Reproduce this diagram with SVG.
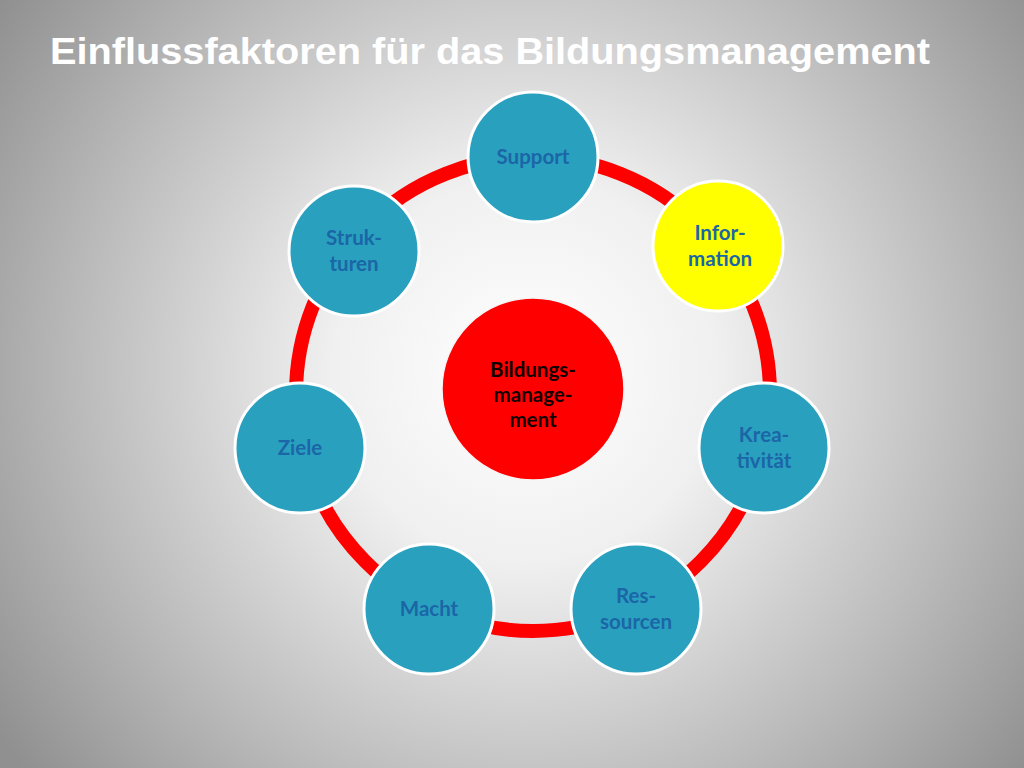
<svg xmlns="http://www.w3.org/2000/svg" width="1024" height="768" viewBox="0 0 1024 768">
<defs>
<radialGradient id="bg" gradientUnits="userSpaceOnUse" cx="525" cy="370" r="640">
<stop offset="0" stop-color="#ffffff"/>
<stop offset="0.3" stop-color="#f0f0f0"/>
<stop offset="0.7" stop-color="#bababa"/>
<stop offset="1" stop-color="#909090"/>
</radialGradient>
</defs>
<style>
.title{font-family:"Liberation Sans",Arial,sans-serif;font-weight:bold;font-size:36px;fill:#ffffff}
.node{fill:#2aa0bf;stroke:#ffffff;stroke-width:3}
.lbl{font-family:Lato,"Open Sans",sans-serif;font-weight:bold;font-size:20.5px;fill:#1a66a6;text-anchor:middle}
.clbl{font-family:Lato,"Open Sans",sans-serif;font-weight:bold;font-size:20.5px;fill:#140000;text-anchor:middle}
</style>
<rect width="1024" height="768" fill="url(#bg)"/>
<text class="title" x="50" y="64" textLength="880" lengthAdjust="spacingAndGlyphs">Einflussfaktoren für das Bildungsmanagement</text>
<g id="connectors">
<circle cx="533" cy="394" r="237" fill="none" stroke="#ff0000" stroke-width="14"/>
</g>
<g id="center">
<circle cx="533" cy="389" r="91" fill="#ff0000" stroke="#f5f5f5" stroke-width="1.5"/>
<text class="clbl" x="533" y="377">Bildungs-</text>
<text class="clbl" x="533" y="402">manage-</text>
<text class="clbl" x="533" y="427">ment</text>
</g>
<g id="support">
<circle class="node" cx="533" cy="157" r="65"/>
<text class="lbl" x="533" y="164">Support</text>
</g>
<g id="information">
<circle class="node" cx="718" cy="246" r="65" style="fill:#ffff00"/>
<text class="lbl" x="720" y="240">Infor-</text>
<text class="lbl" x="720" y="266">mation</text>
</g>
<g id="kreativitaet">
<circle class="node" cx="764" cy="448" r="65"/>
<text class="lbl" x="764" y="442">Krea-</text>
<text class="lbl" x="764" y="468">tivität</text>
</g>
<g id="ressourcen">
<circle class="node" cx="636" cy="609" r="65"/>
<text class="lbl" x="636" y="603">Res-</text>
<text class="lbl" x="636" y="629">sourcen</text>
</g>
<g id="macht">
<circle class="node" cx="429" cy="609" r="65"/>
<text class="lbl" x="429" y="616">Macht</text>
</g>
<g id="ziele">
<circle class="node" cx="300" cy="448" r="65"/>
<text class="lbl" x="300" y="455">Ziele</text>
</g>
<g id="strukturen">
<circle class="node" cx="354" cy="251" r="65"/>
<text class="lbl" x="354" y="245">Struk-</text>
<text class="lbl" x="354" y="271">turen</text>
</g>
</svg>
